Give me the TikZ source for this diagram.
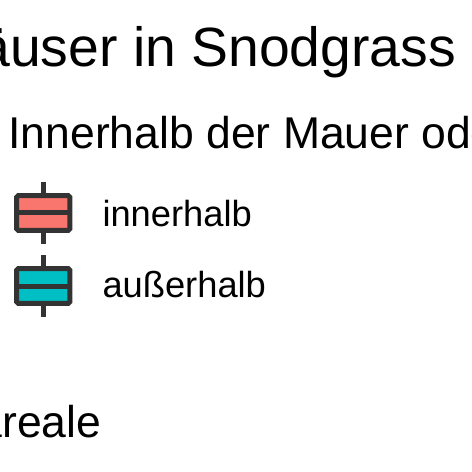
\documentclass[tikz,border=0pt]{standalone}
\usepackage{fontspec}
\setmainfont{Liberation Sans}
\definecolor{keyred}{HTML}{F8766D}
\definecolor{keycyan}{HTML}{00BFC4}
\definecolor{keyline}{HTML}{333333}
\begin{document}
\begin{tikzpicture}[x=1bp,y=-1bp,
  txt/.style={anchor=base west,inner sep=0pt,outer sep=0pt,text=black},
  titletxt/.style={txt,font=\fontsize{55.3bp}{60bp}\selectfont},
  legtitle/.style={txt,font=\fontsize{44.5bp}{50bp}\selectfont},
  labeltxt/.style={txt,font=\fontsize{36.3bp}{40bp}\selectfont},
  keybox/.style={draw=keyline,line width=5bp,rounded corners=1.5bp,minimum width=53.2bp,minimum height=34.6bp,inner sep=0pt,outer sep=0pt},
  keyseg/.style={draw=keyline,line width=5bp}
]
\useasboundingbox (0,0) rectangle (472,472);
\clip (0,0) rectangle (472,472);
\fill[white] (0,0) rectangle (472,472);
\node[titletxt] (title) at (-60.5,66.5) {Häuser in Snodgrass};
\node[legtitle] (sub) at (8.5,148.3) {Innerhalb der Mauer oder außerhalb};
% key 1
\node[keybox,fill=keyred] (k1) at (43.3,213) {};
\coordinate (k1t) at (43.6,182.3);
\coordinate (k1b) at (43.6,244.3);
\draw[keyseg] (k1.west) -- (k1.east);
\draw[keyseg] (k1t) -- (k1t |- k1.north);
\draw[keyseg] (k1b) -- (k1b |- k1.south);
\node[labeltxt] (l1) at (102.5,227) {innerhalb};
% key 2
\node[keybox,fill=keycyan] (k2) at (43.3,286) {};
\coordinate (k2t) at (43.6,255.2);
\coordinate (k2b) at (43.6,316.7);
\draw[keyseg] (k2.west) -- (k2.east);
\draw[keyseg] (k2t) -- (k2t |- k2.north);
\draw[keyseg] (k2b) -- (k2b |- k2.south);
\node[labeltxt] (l2) at (102.5,297) {außerhalb};
\node[legtitle] (ar) at (-22.4,437.5) {areale};
\end{tikzpicture}
\end{document}
